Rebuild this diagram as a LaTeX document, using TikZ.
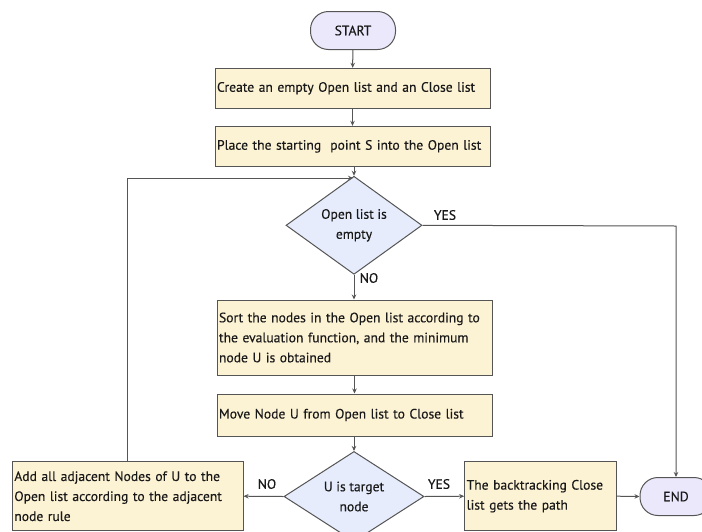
\documentclass[tikz,border=0pt]{standalone}
\usepackage{fontspec}
\setmainfont{PT Sans}
\newfontfamily\chartfont[FakeBold=0.3]{PT Sans}
\usetikzlibrary{shapes.geometric,arrows.meta}

\definecolor{linegray}{HTML}{555555}
\definecolor{boxfill}{HTML}{FCF2D4}
\definecolor{decfill}{HTML}{E6ECFB}
\definecolor{termfill}{HTML}{ECE8FB}

\tikzset{
  txt/.style={font=\chartfont\fontsize{13.6}{20}\selectfont, text=black!90},
  proc/.style={rectangle, draw=linegray, fill=boxfill, line width=1pt,
    inner xsep=2pt, inner ysep=0pt, align=left, txt},
  decision/.style={diamond, draw=linegray, fill=decfill, line width=1pt,
    inner sep=0pt, align=center, txt},
  terminal/.style={rectangle, rounded corners=18pt, draw=linegray, fill=termfill,
    line width=1pt, minimum height=38pt, inner sep=0pt, txt},
  flow/.style={draw=linegray, line width=1pt,
    -{Stealth[length=5pt,width=4.5pt]}},
  lbl/.style={txt, inner sep=0pt}
}

\begin{document}
\begin{tikzpicture}[x=1pt,y=-1pt]
\clip (0,0) rectangle (702,531);
\fill[white] (0,0) rectangle (702,531);

% terminals
\node[terminal, minimum width=85pt] (start) at (353,30.5) {START};
\node[terminal, minimum width=72pt] (end) at (676,496.5) {END};

% main column
\node[proc, text width=271pt, minimum height=40pt] (create) at (352.5,88.3)
  {Create an empty Open list and an Close list};
\node[proc, text width=271pt, minimum height=40pt] (place) at (352.5,146.3)
  {Place the starting\ \ point S into the Open list};
\node[decision, minimum width=136pt, minimum height=74pt] (empty) at (354,225.3)
  {Open list is\\empty};
\node[proc, text width=271pt, minimum height=75pt] (sort) at (354.5,337.5)
  {Sort the nodes in the Open list according to the evaluation function, and the minimum node U is obtained};
\node[proc, text width=271pt, minimum height=42pt] (move) at (354.5,415)
  {Move Node U from Open list to Close list};
\node[decision, minimum width=140pt, minimum height=79pt] (target) at (354,496.5)
  {U is target\\node};

% bottom row
\node[proc, text width=226.7pt, minimum height=69pt] (adjacent) at (127.7,496.2)
  {Add all adjacent Nodes of U to the Open list according to the adjacent node rule};
\node[proc, text width=148pt, minimum height=69pt] (backtrack) at (540.7,496.2)
  {The backtracking Close list gets the path};

\coordinate (loopin) at (353,178);
\coordinate (yescorner) at (676,226);

% connectors
\draw[flow] (start) -- (create);
\draw[flow] (create) -- (place);
\draw[flow] (place.south -| empty.north) -- (empty.north);
\draw[flow] (empty.east) -- (yescorner) -- (end.north);
\draw[flow] (empty.south) -- (empty.south |- sort.north);
\draw[flow] (sort.south -| move.north) -- (move.north);
\draw[flow] (move.south -| target.north) -- (target.north);
\draw[flow] (target.west) -- (adjacent.east);
\draw[flow] (target.east) -- (backtrack.west);
\draw[flow] (backtrack.east) -- (end.west);
\draw[flow] (adjacent.north) |- (loopin);

% branch labels
\node[lbl] (yes1) at (445,215) {YES};
\node[lbl] (no1) at (369,278) {NO};
\node[lbl] (no2) at (267,484) {NO};
\node[lbl] (yes2) at (439,484) {YES};
\end{tikzpicture}
\end{document}
